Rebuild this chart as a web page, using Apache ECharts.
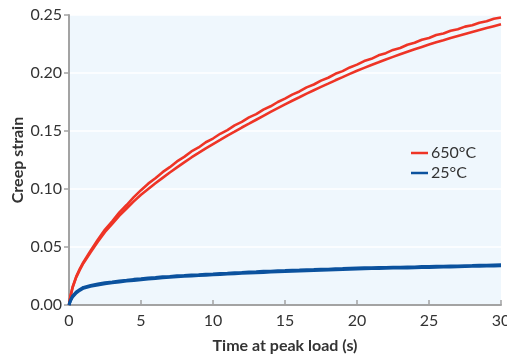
<!DOCTYPE html>
<html>
<head>
<meta charset="utf-8">
<script src="https://cdn.jsdelivr.net/npm/echarts@6/dist/echarts.min.js"></script>
<style>
html,body{margin:0;padding:0;background:#fff;}
#c{width:507px;height:356px;}
</style>
</head>
<body>
<div id="c"></div>
<script>
var T = [0,0.1,0.25,0.5,0.75,1,1.5,2,2.5,3,3.5,4,4.5,5,5.5,6,6.5,7,7.5,8,8.5,9,9.5,10,10.5,11,11.5,12,12.5,13,13.5,14,14.5,15,15.5,16,16.5,17,17.5,18,18.5,19,19.5,20,20.5,21,21.5,22,22.5,23,23.5,24,24.5,25,25.5,26,26.5,27,27.5,28,28.5,29,29.5,30];

var hotA = [0,0.0075,0.0155,0.0245,0.0312,0.0370,0.0468,0.0562,0.0650,0.0722,0.0798,0.0862,0.0930,0.0990,0.1046,0.1092,0.1145,0.1188,0.1238,0.1277,0.1324,0.1358,0.1403,0.1435,0.1476,0.1508,0.1548,0.1578,0.1617,0.1645,0.1684,0.1713,0.1750,0.1779,0.1814,0.1841,0.1876,0.1901,0.1934,0.1959,0.1993,0.2016,0.2048,0.2072,0.2103,0.2122,0.2152,0.2171,0.2199,0.2216,0.2244,0.2261,0.2287,0.2302,0.2327,0.2341,0.2364,0.2377,0.2400,0.2412,0.2434,0.2446,0.2467,0.2478];

var hotB = [0,0.0072,0.0150,0.0238,0.0303,0.0360,0.0455,0.0545,0.0630,0.0700,0.0770,0.0832,0.0893,0.0950,0.1000,0.1049,0.1096,0.1142,0.1186,0.1229,0.1272,0.1311,0.1351,0.1387,0.1423,0.1460,0.1494,0.1530,0.1563,0.1597,0.1631,0.1664,0.1697,0.1729,0.1761,0.1791,0.1822,0.1851,0.1880,0.1908,0.1937,0.1964,0.1992,0.2019,0.2044,0.2069,0.2092,0.2116,0.2139,0.2161,0.2183,0.2204,0.2225,0.2245,0.2265,0.2283,0.2302,0.2320,0.2337,0.2354,0.2371,0.2388,0.2404,0.2420];

var roomA = [0,0.0042,0.0078,0.0112,0.0133,0.0152,0.0168,0.0181,0.0192,0.0199,0.0208,0.0213,0.0221,0.0226,0.0233,0.0237,0.0243,0.0246,0.0252,0.0254,0.0259,0.0261,0.0266,0.0268,0.0272,0.0274,0.0278,0.0280,0.0285,0.0286,0.0290,0.0291,0.0295,0.0297,0.0300,0.0301,0.0304,0.0305,0.0309,0.0309,0.0312,0.0314,0.0317,0.0319,0.0321,0.0321,0.0324,0.0324,0.0326,0.0326,0.0328,0.0328,0.0331,0.0331,0.0333,0.0334,0.0336,0.0337,0.0339,0.0340,0.0342,0.0342,0.0345,0.0346];

var roomB = [0,0.0035,0.0070,0.0104,0.0126,0.0145,0.0161,0.0173,0.0184,0.0192,0.0199,0.0206,0.0212,0.0218,0.0224,0.0229,0.0234,0.0239,0.0243,0.0247,0.0250,0.0254,0.0257,0.0261,0.0263,0.0267,0.0269,0.0273,0.0276,0.0279,0.0281,0.0284,0.0287,0.0289,0.0291,0.0294,0.0296,0.0298,0.0300,0.0302,0.0304,0.0306,0.0309,0.0311,0.0312,0.0314,0.0315,0.0317,0.0318,0.0319,0.0320,0.0322,0.0323,0.0324,0.0326,0.0327,0.0328,0.0330,0.0331,0.0333,0.0334,0.0336,0.0337,0.0339];

var seriesNames = ['650°C', '25°C'];
var xTitle = 'Time at peak load (s)';
var yTitle = 'Creep strain';

var RED = '#ee3426';
var BLUE = '#0b529e';
var FONT = 'Lato, "Open Sans", sans-serif';

function pairs(ys){ return T.map(function(t,i){ return [t, ys[i]]; }); }
function line(name, ys, color, w){
  return {
    name: name, type: 'line', data: pairs(ys), showSymbol: false, symbol: 'none',
    lineStyle: {color: color, width: w}, itemStyle: {color: color},
    animation: false, z: 3
  };
}

var chart = echarts.init(document.getElementById('c'), null, {renderer: 'canvas'});
chart.setOption({
  animation: false,
  textStyle: {fontFamily: FONT},
  grid: {left: 69, right: 6, top: 15, bottom: 51, show: true, backgroundColor: '#eff7fd', borderWidth: 0,
         containLabel: false, outerBoundsMode: 'none'},
  legend: {
    data: seriesNames, orient: 'vertical', left: 406, top: 140,
    icon: 'rect', itemWidth: 17, itemHeight: 2.5, itemGap: 4,
    textStyle: {fontFamily: FONT, fontSize: 16, color: '#333', padding: [0,0,0,-2]}
  },
  xAxis: {
    type: 'value', min: 0, max: 30, interval: 5,
    name: xTitle, nameLocation: 'middle', nameGap: 33, nameMoveOverlap: false,
    nameTextStyle: {fontFamily: FONT, fontSize: 16, color: '#333', fontWeight: 'bold'},
    axisLine: {show: true, lineStyle: {color: '#a3a3a3', width: 2}},
    axisTick: {show: true, inside: true, length: 5, lineStyle: {color: '#a3a3a3', width: 1.5}},
    axisLabel: {fontFamily: FONT, fontSize: 16, color: '#333', margin: 8},
    splitLine: {show: false}
  },
  yAxis: {
    type: 'value', min: 0, max: 0.25, interval: 0.05,
    name: yTitle, nameLocation: 'middle', nameGap: 43, nameMoveOverlap: false,
    nameTextStyle: {fontFamily: FONT, fontSize: 16, color: '#333', fontWeight: 'bold'},
    axisLine: {show: true, lineStyle: {color: '#a3a3a3', width: 2}},
    axisTick: {show: true, inside: false, length: 5, lineStyle: {color: '#a3a3a3', width: 1.5}},
    axisLabel: {fontFamily: FONT, fontSize: 16, color: '#333', margin: 7,
      formatter: function(v){ return v.toFixed(2); }},
    splitLine: {show: true, lineStyle: {color: '#ffffff', width: 1.5}}
  },
  series: [
    line(seriesNames[0], hotA, RED, 2.6),
    line(seriesNames[0], hotB, RED, 2.6),
    line(seriesNames[1], roomA, BLUE, 3),
    line(seriesNames[1], roomB, BLUE, 3)
  ]
});
</script>
</body>
</html>
